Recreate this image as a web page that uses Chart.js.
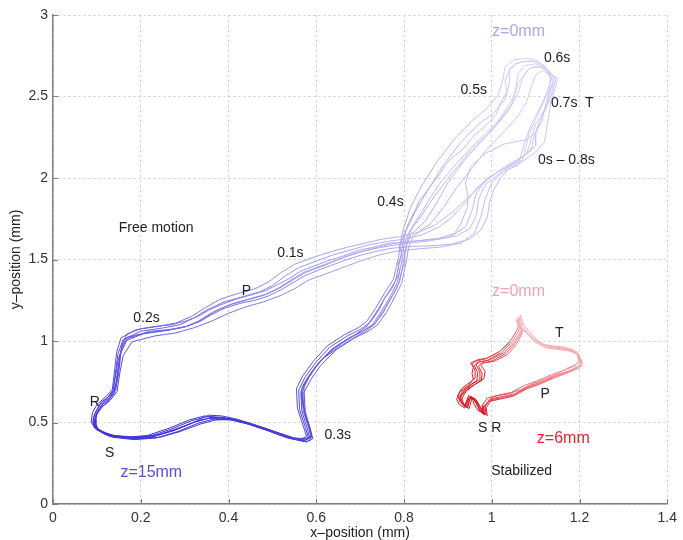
<!DOCTYPE html>
<html>
<head>
<meta charset="utf-8">
<script src="https://cdn.jsdelivr.net/npm/chart.js@4.4.1/dist/chart.umd.min.js"></script>
<style>
  html, body { margin: 0; padding: 0; background: #fff; }
  #wrap { width: 683px; height: 540px; position: relative; }
</style>
</head>
<body>
<div id="wrap"><canvas id="chart"></canvas></div>
<script>
// Axis ticks
const xTickValues = [0, 0.2, 0.4, 0.6, 0.8, 1, 1.2, 1.4];
const yTickValues = [0, 0.5, 1, 1.5, 2, 2.5, 3];

// Free motion trials (x mm, y mm), each loop 0s -> 0.8s
const blueTrial1 = [[1.08,2.15],[1.05,2.09],[1.01,2.03],[0.97,1.95],[0.94,1.85],[0.91,1.76],[0.88,1.70],[0.84,1.65],[0.80,1.625],[0.76,1.61],[0.72,1.59],[0.68,1.56],[0.64,1.53],[0.60,1.49],[0.56,1.45],[0.53,1.40],[0.50,1.34],[0.47,1.30],[0.43,1.27],[0.39,1.24],[0.35,1.19],[0.32,1.14],[0.29,1.10],[0.25,1.08],[0.20,1.06],[0.16,1.01],[0.148,0.92],[0.142,0.80],[0.137,0.69],[0.12,0.64],[0.105,0.60],[0.095,0.55],[0.09,0.50],[0.098,0.46],[0.125,0.42],[0.175,0.405],[0.22,0.415],[0.27,0.46],[0.315,0.51],[0.35,0.535],[0.395,0.525],[0.44,0.495],[0.485,0.455],[0.53,0.41],[0.567,0.39],[0.582,0.41],[0.575,0.47],[0.562,0.58],[0.56,0.70],[0.575,0.78],[0.598,0.865],[0.63,0.96],[0.67,1.03],[0.70,1.07],[0.72,1.11],[0.74,1.19],[0.762,1.29],[0.781,1.37],[0.786,1.44],[0.792,1.50],[0.797,1.60],[0.805,1.68],[0.825,1.79],[0.853,1.92],[0.89,2.08],[0.93,2.22],[0.97,2.33],[1.005,2.40],[1.03,2.48],[1.04,2.58],[1.04,2.67],[1.06,2.71],[1.09,2.72],[1.11,2.70],[1.13,2.65],[1.14,2.60],[1.13,2.52],[1.12,2.42],[1.10,2.33],[1.09,2.24],[1.08,2.15]];
const blueTrial2 = [[1.07,2.11],[1.03,2.06],[0.99,2.00],[0.965,1.91],[0.955,1.80],[0.94,1.70],[0.905,1.64],[0.86,1.615],[0.81,1.60],[0.77,1.585],[0.73,1.565],[0.69,1.54],[0.65,1.50],[0.61,1.46],[0.57,1.42],[0.54,1.37],[0.51,1.32],[0.48,1.28],[0.44,1.25],[0.40,1.22],[0.36,1.17],[0.33,1.12],[0.30,1.085],[0.26,1.065],[0.21,1.05],[0.165,1.00],[0.152,0.91],[0.146,0.79],[0.14,0.68],[0.125,0.63],[0.108,0.59],[0.097,0.545],[0.093,0.495],[0.10,0.455],[0.13,0.415],[0.18,0.40],[0.225,0.41],[0.275,0.45],[0.32,0.50],[0.355,0.525],[0.40,0.52],[0.445,0.49],[0.49,0.45],[0.535,0.405],[0.57,0.385],[0.585,0.405],[0.58,0.46],[0.567,0.57],[0.565,0.69],[0.58,0.77],[0.60,0.85],[0.635,0.95],[0.675,1.02],[0.705,1.06],[0.728,1.10],[0.748,1.18],[0.77,1.28],[0.785,1.36],[0.79,1.43],[0.797,1.51],[0.80,1.59],[0.81,1.66],[0.84,1.77],[0.87,1.89],[0.91,2.03],[0.95,2.16],[0.99,2.27],[1.02,2.36],[1.045,2.45],[1.055,2.55],[1.06,2.64],[1.075,2.69],[1.10,2.70],[1.12,2.68],[1.135,2.62],[1.13,2.54],[1.115,2.45],[1.10,2.36],[1.085,2.27],[1.07,2.11]];
const blueTrial3 = [[1.10,2.20],[1.07,2.13],[1.03,2.07],[0.99,1.99],[0.95,1.89],[0.91,1.79],[0.87,1.71],[0.83,1.665],[0.79,1.64],[0.75,1.625],[0.71,1.60],[0.67,1.575],[0.63,1.545],[0.59,1.51],[0.55,1.47],[0.52,1.42],[0.49,1.36],[0.46,1.32],[0.42,1.29],[0.38,1.255],[0.345,1.20],[0.315,1.15],[0.28,1.11],[0.24,1.09],[0.19,1.07],[0.155,1.02],[0.145,0.93],[0.14,0.81],[0.135,0.70],[0.117,0.65],[0.10,0.61],[0.09,0.56],[0.087,0.505],[0.095,0.465],[0.12,0.425],[0.17,0.41],[0.215,0.42],[0.265,0.465],[0.31,0.515],[0.345,0.54],[0.39,0.53],[0.435,0.50],[0.48,0.46],[0.525,0.415],[0.563,0.395],[0.578,0.415],[0.57,0.48],[0.557,0.59],[0.555,0.71],[0.57,0.79],[0.593,0.875],[0.625,0.97],[0.665,1.04],[0.695,1.08],[0.715,1.12],[0.735,1.20],[0.757,1.30],[0.776,1.38],[0.782,1.45],[0.788,1.52],[0.792,1.61],[0.80,1.70],[0.815,1.82],[0.84,1.95],[0.875,2.10],[0.915,2.24],[0.955,2.35],[0.99,2.43],[1.015,2.51],[1.025,2.60],[1.03,2.68],[1.05,2.725],[1.08,2.735],[1.105,2.72],[1.125,2.67],[1.145,2.61],[1.14,2.53],[1.125,2.44],[1.11,2.35],[1.10,2.27],[1.10,2.20]];
const blueTrial4 = [[1.06,2.08],[1.02,2.03],[0.985,1.96],[0.97,1.87],[0.965,1.77],[0.95,1.69],[0.92,1.645],[0.88,1.625],[0.83,1.615],[0.78,1.60],[0.74,1.575],[0.70,1.545],[0.66,1.51],[0.62,1.465],[0.58,1.425],[0.55,1.38],[0.52,1.33],[0.49,1.29],[0.45,1.26],[0.41,1.23],[0.37,1.185],[0.34,1.13],[0.305,1.09],[0.265,1.07],[0.22,1.06],[0.17,1.015],[0.155,0.93],[0.15,0.81],[0.143,0.70],[0.128,0.645],[0.11,0.605],[0.10,0.555],[0.095,0.50],[0.103,0.46],[0.133,0.42],[0.183,0.405],[0.23,0.415],[0.28,0.455],[0.325,0.505],[0.36,0.53],[0.405,0.525],[0.45,0.495],[0.495,0.455],[0.54,0.41],[0.573,0.39],[0.588,0.41],[0.583,0.465],[0.57,0.575],[0.568,0.695],[0.583,0.775],[0.604,0.86],[0.64,0.955],[0.68,1.025],[0.71,1.065],[0.733,1.105],[0.753,1.185],[0.775,1.285],[0.79,1.365],[0.795,1.435],[0.80,1.505],[0.805,1.58],[0.815,1.65],[0.85,1.74],[0.875,1.85],[0.90,1.97],[0.935,2.10],[0.975,2.22],[1.01,2.32],[1.04,2.42],[1.06,2.52],[1.07,2.61],[1.085,2.67],[1.105,2.685],[1.125,2.66],[1.135,2.60],[1.125,2.52],[1.11,2.43],[1.09,2.33],[1.075,2.22],[1.06,2.08]];
const blueTrial5 = [[1.09,2.17],[1.06,2.11],[1.03,2.05],[1.00,1.97],[0.985,1.87],[0.975,1.76],[0.96,1.66],[0.93,1.60],[0.88,1.575],[0.83,1.565],[0.78,1.55],[0.74,1.525],[0.70,1.49],[0.66,1.45],[0.62,1.41],[0.58,1.37],[0.55,1.32],[0.52,1.28],[0.48,1.24],[0.44,1.21],[0.40,1.17],[0.36,1.12],[0.32,1.08],[0.28,1.05],[0.23,1.03],[0.18,0.995],[0.16,0.91],[0.152,0.80],[0.146,0.69],[0.13,0.635],[0.112,0.595],[0.10,0.55],[0.095,0.49],[0.105,0.45],[0.135,0.41],[0.185,0.395],[0.235,0.405],[0.285,0.445],[0.33,0.495],[0.365,0.52],[0.41,0.515],[0.455,0.485],[0.50,0.445],[0.545,0.40],[0.578,0.38],[0.592,0.40],[0.587,0.455],[0.575,0.565],[0.572,0.685],[0.588,0.765],[0.61,0.85],[0.645,0.945],[0.685,1.015],[0.715,1.055],[0.738,1.095],[0.76,1.175],[0.78,1.275],[0.795,1.355],[0.80,1.425],[0.806,1.495],[0.81,1.57],[0.82,1.64],[0.86,1.72],[0.89,1.82],[0.92,1.94],[0.955,2.06],[0.99,2.18],[1.03,2.29],[1.06,2.38],[1.08,2.47],[1.09,2.56],[1.10,2.63],[1.115,2.66],[1.13,2.64],[1.14,2.58],[1.135,2.50],[1.12,2.41],[1.105,2.32],[1.095,2.24],[1.09,2.17]];
const blueTrial6 = [[1.10,2.28],[1.08,2.235],[1.03,2.21],[0.985,2.15],[0.952,2.07],[0.94,1.97],[0.946,1.88],[0.944,1.82],[0.93,1.72],[0.915,1.66],[0.88,1.63],[0.84,1.618],[0.80,1.605],[0.765,1.60],[0.73,1.575],[0.695,1.555],[0.66,1.52],[0.625,1.49],[0.595,1.46],[0.565,1.43],[0.54,1.385],[0.515,1.35],[0.485,1.31],[0.455,1.285],[0.42,1.26],[0.385,1.225],[0.355,1.19],[0.33,1.15],[0.30,1.12],[0.27,1.10],[0.235,1.09],[0.20,1.075],[0.17,1.045],[0.158,0.99],[0.155,0.94],[0.147,0.87],[0.145,0.82],[0.14,0.75],[0.138,0.70],[0.125,0.655],[0.11,0.625],[0.10,0.58],[0.092,0.53],[0.094,0.48],[0.108,0.445],[0.14,0.42],[0.19,0.41],[0.24,0.425],[0.285,0.465],[0.325,0.505],[0.355,0.545],[0.385,0.54],[0.42,0.52],[0.465,0.48],[0.51,0.44],[0.55,0.405],[0.575,0.40],[0.59,0.42],[0.582,0.49],[0.572,0.58],[0.566,0.66],[0.568,0.72],[0.585,0.795],[0.61,0.88],[0.64,0.95],[0.66,0.99],[0.69,1.04],[0.715,1.09],[0.73,1.14],[0.745,1.20],[0.755,1.26],[0.772,1.32],[0.78,1.37],[0.79,1.42],[0.786,1.47],[0.795,1.53],[0.79,1.58],[0.80,1.65],[0.81,1.72],[0.825,1.80],[0.835,1.86],[0.86,1.95],[0.88,2.02],[0.90,2.10],[0.935,2.18],[0.96,2.26],[0.99,2.33],[1.01,2.39],[1.02,2.46],[1.035,2.53],[1.03,2.60],[1.04,2.66],[1.055,2.70],[1.075,2.715],[1.10,2.715],[1.12,2.69],[1.135,2.64],[1.145,2.60],[1.135,2.55],[1.128,2.48],[1.12,2.42],[1.115,2.35],[1.10,2.28]];
const blueTrial7 = [[1.12,2.22],[1.10,2.16],[1.07,2.10],[1.04,2.06],[1.02,2.00],[1.005,1.93],[0.995,1.85],[0.99,1.76],[0.975,1.68],[0.95,1.625],[0.91,1.595],[0.87,1.585],[0.82,1.58],[0.775,1.57],[0.735,1.55],[0.70,1.525],[0.67,1.50],[0.635,1.465],[0.60,1.43],[0.57,1.395],[0.545,1.355],[0.52,1.315],[0.49,1.275],[0.46,1.25],[0.425,1.23],[0.39,1.20],[0.36,1.16],[0.335,1.12],[0.305,1.09],[0.27,1.07],[0.235,1.055],[0.195,1.04],[0.168,1.02],[0.158,0.975],[0.152,0.90],[0.15,0.84],[0.146,0.77],[0.14,0.70],[0.13,0.66],[0.115,0.62],[0.102,0.57],[0.096,0.52],[0.098,0.47],[0.112,0.44],[0.145,0.415],[0.195,0.40],[0.245,0.41],[0.29,0.445],[0.335,0.49],[0.37,0.515],[0.405,0.52],[0.44,0.50],[0.48,0.465],[0.525,0.425],[0.56,0.395],[0.58,0.385],[0.59,0.41],[0.585,0.47],[0.575,0.55],[0.57,0.64],[0.572,0.73],[0.59,0.81],[0.615,0.89],[0.65,0.96],[0.685,1.02],[0.71,1.055],[0.732,1.10],[0.752,1.17],[0.768,1.25],[0.785,1.33],[0.792,1.40],[0.80,1.47],[0.802,1.54],[0.808,1.62],[0.818,1.70],[0.838,1.78],[0.86,1.88],[0.885,1.98],[0.92,2.09],[0.955,2.19],[0.985,2.27],[1.015,2.35],[1.035,2.43],[1.05,2.50],[1.06,2.58],[1.075,2.64],[1.09,2.68],[1.115,2.68],[1.13,2.65],[1.15,2.61],[1.145,2.55],[1.135,2.47],[1.13,2.38],[1.125,2.30],[1.12,2.22]];

// Stabilized trials
const redTrial1 = [[1.059,1.147],[1.068,1.086],[1.084,1.049],[1.102,0.994],[1.124,0.963],[1.147,0.957],[1.176,0.945],[1.192,0.926],[1.199,0.896],[1.204,0.865],[1.197,0.840],[1.170,0.810],[1.140,0.779],[1.109,0.742],[1.079,0.712],[1.050,0.669],[1.018,0.650],[0.995,0.638],[0.982,0.595],[0.984,0.546],[0.977,0.564],[0.971,0.595],[0.962,0.638],[0.950,0.656],[0.943,0.589],[0.932,0.620],[0.928,0.656],[0.939,0.699],[0.959,0.742],[0.971,0.761],[0.973,0.810],[0.964,0.853],[0.971,0.871],[0.995,0.883],[1.027,0.926],[1.050,0.988],[1.068,1.067],[1.059,1.141]];
const redTrial2 = [[1.055,1.13],[1.066,1.08],[1.082,1.04],[1.10,0.99],[1.122,0.958],[1.148,0.95],[1.178,0.938],[1.194,0.918],[1.201,0.888],[1.202,0.858],[1.193,0.832],[1.166,0.80],[1.136,0.77],[1.105,0.733],[1.075,0.703],[1.046,0.66],[1.015,0.642],[0.992,0.63],[0.98,0.59],[0.982,0.55],[0.975,0.565],[0.968,0.60],[0.96,0.64],[0.948,0.65],[0.94,0.595],[0.93,0.625],[0.93,0.665],[0.945,0.705],[0.968,0.745],[0.982,0.768],[0.985,0.815],[0.975,0.85],[0.982,0.866],[1.005,0.875],[1.035,0.915],[1.055,0.975],[1.07,1.05],[1.055,1.13]];
const redTrial3 = [[1.062,1.15],[1.072,1.09],[1.088,1.052],[1.106,1.00],[1.128,0.97],[1.15,0.962],[1.178,0.952],[1.195,0.932],[1.20,0.90],[1.205,0.872],[1.20,0.846],[1.174,0.816],[1.143,0.786],[1.112,0.75],[1.082,0.72],[1.053,0.677],[1.02,0.657],[0.997,0.645],[0.985,0.60],[0.987,0.55],[0.979,0.57],[0.972,0.60],[0.964,0.642],[0.952,0.66],[0.945,0.592],[0.934,0.617],[0.925,0.652],[0.935,0.695],[0.955,0.738],[0.966,0.758],[0.968,0.805],[0.96,0.848],[0.966,0.868],[0.99,0.882],[1.022,0.928],[1.046,0.992],[1.064,1.075],[1.062,1.15]];
const redTrial4 = [[1.058,1.14],[1.064,1.09],[1.078,1.055],[1.096,1.005],[1.118,0.975],[1.143,0.965],[1.172,0.955],[1.19,0.935],[1.197,0.905],[1.20,0.875],[1.192,0.85],[1.166,0.822],[1.135,0.792],[1.104,0.756],[1.074,0.727],[1.045,0.685],[1.012,0.665],[0.99,0.65],[0.978,0.605],[0.98,0.555],[0.973,0.575],[0.966,0.61],[0.958,0.648],[0.947,0.665],[0.938,0.60],[0.928,0.628],[0.922,0.665],[0.932,0.71],[0.952,0.75],[0.962,0.772],[0.962,0.818],[0.955,0.858],[0.962,0.876],[0.985,0.89],[1.018,0.935],[1.042,1.00],[1.06,1.08],[1.058,1.14]];
const redTrial5 = [[1.065,1.16],[1.074,1.095],[1.09,1.046],[1.108,0.99],[1.13,0.958],[1.152,0.952],[1.18,0.94],[1.196,0.92],[1.203,0.89],[1.207,0.86],[1.20,0.834],[1.173,0.804],[1.142,0.773],[1.11,0.736],[1.08,0.706],[1.05,0.663],[1.02,0.644],[0.998,0.632],[0.987,0.59],[0.99,0.542],[0.982,0.56],[0.975,0.59],[0.966,0.632],[0.955,0.65],[0.948,0.584],[0.936,0.612],[0.932,0.65],[0.942,0.692],[0.962,0.735],[0.976,0.755],[0.978,0.802],[0.97,0.845],[0.976,0.864],[1.00,0.877],[1.03,0.92],[1.052,0.982],[1.07,1.06],[1.065,1.16]];
const redTrial6 = [[1.06,1.12],[1.07,1.075],[1.085,1.035],[1.098,1.01],[1.115,0.98],[1.14,0.97],[1.165,0.962],[1.185,0.945],[1.195,0.915],[1.198,0.88],[1.19,0.855],[1.17,0.83],[1.15,0.80],[1.12,0.765],[1.095,0.74],[1.065,0.70],[1.035,0.675],[1.005,0.66],[0.99,0.62],[0.976,0.58],[0.985,0.56],[0.97,0.57],[0.96,0.61],[0.955,0.655],[0.944,0.64],[0.938,0.59],[0.926,0.61],[0.92,0.645],[0.928,0.69],[0.948,0.73],[0.958,0.765],[0.955,0.80],[0.958,0.84],[0.952,0.865],[0.968,0.885],[0.99,0.895],[1.012,0.925],[1.035,0.975],[1.05,1.03],[1.062,1.09],[1.06,1.12]];

// Text annotations (data coordinates)
const noteText = ['Free motion', '0.1s', 'P', '0.2s', 'R', 'S', '0.3s', '0.4s', '0.5s', '0.6s', '0.7s', 'T', '0s \u2013 0.8s', 'T', 'P', 'S R', 'Stabilized'];
const noteX    = [0.235, 0.541, 0.441, 0.213, 0.095, 0.129, 0.649, 0.769, 0.959, 1.149, 1.165, 1.222, 1.170, 1.154, 1.122, 0.995, 1.068];
const noteY    = [1.693, 1.540, 1.307, 1.141, 0.626, 0.313, 0.423, 1.853, 2.540, 2.736, 2.460, 2.460, 2.110, 1.049, 0.675, 0.466, 0.202];
const depthText = ['z=0mm', 'z=15mm', 'z=0mm', 'z=6mm'];
const depthX    = [1.061, 0.224, 1.061, 1.163];
const depthY    = [2.896, 0.190, 1.301, 0.399];

// colours along the loop (fraction of time -> rgb), encodes depth z
const blueStops = [[0,200,196,245],[0.1,184,179,242],[0.175,160,154,238],[0.225,136,128,234],[0.3,106,95,228],[0.36,74,62,221],[0.41,61,48,218],[0.5,64,52,218],[0.55,74,62,220],[0.65,106,96,227],[0.75,163,157,239],[0.825,195,191,244],[0.9,212,209,247],[1,200,196,245]];
const redStops = [[0,247,194,201],[0.24,244,160,170],[0.35,239,116,128],[0.46,230,58,70],[0.51,224,24,34],[0.65,223,20,30],[0.81,226,32,42],[0.92,234,78,90],[1,247,194,201]];
const depthColors = ['#aaa5f0', '#5a4ee0', '#f4a3ad', '#e8222b'];

const FONT = "'Liberation Sans', Arial, Helvetica, sans-serif";
const AXIS = '#808080';

function colorAt(stops, f) {
    for (let i = 1; i < stops.length; i++) {
        if (f <= stops[i][0]) {
            const a = stops[i - 1], b = stops[i];
            const t = (f - a[0]) / (b[0] - a[0] || 1);
            const c = [1, 2, 3].map(k => Math.round(a[k] + (b[k] - a[k]) * t));
            return `rgb(${c[0]},${c[1]},${c[2]})`;
        }
    }
    const l = stops[stops.length - 1];
    return `rgb(${l[1]},${l[2]},${l[3]})`;
}

function trialDataset(loop, stops) {
    const n = loop.length - 1;
    return {
        data: loop.map(([x, y]) => ({ x, y })),
        showLine: true,
        pointRadius: 0,
        borderWidth: 1,
        tension: 0,
        borderColor: colorAt(stops, 0),
        segment: {
            borderColor: ctx => colorAt(stops, (ctx.p0DataIndex + 0.5) / n)
        }
    };
}

const datasets = [
    ...[blueTrial1, blueTrial2, blueTrial3, blueTrial4, blueTrial5, blueTrial6, blueTrial7].map(l => trialDataset(l, blueStops)),
    ...[redTrial1, redTrial2, redTrial3, redTrial4, redTrial5, redTrial6].map(l => trialDataset(l, redStops))
];

// inward tick marks + text labels
const extras = {
    id: 'extras',
    afterDraw(chart) {
        const { ctx, chartArea: a, scales: { x, y } } = chart;
        ctx.save();
        ctx.strokeStyle = AXIS;
        ctx.lineWidth = 1;
        ctx.beginPath();
        xTickValues.forEach(v => {
            const px = Math.round(x.getPixelForValue(v)) + 0.5;
            ctx.moveTo(px, a.bottom);
            ctx.lineTo(px, a.bottom - 5);
        });
        yTickValues.forEach(v => {
            const py = Math.round(y.getPixelForValue(v)) + 0.5;
            ctx.moveTo(a.left, py);
            ctx.lineTo(a.left + 5, py);
        });
        ctx.stroke();

        ctx.textAlign = 'center';
        ctx.textBaseline = 'middle';
        ctx.fillStyle = '#222';
        ctx.font = `14px ${FONT}`;
        noteText.forEach((t, i) => {
            ctx.fillText(t, x.getPixelForValue(noteX[i]), y.getPixelForValue(noteY[i]));
        });
        ctx.font = `16px ${FONT}`;
        depthText.forEach((t, i) => {
            ctx.fillStyle = depthColors[i];
            ctx.fillText(t, x.getPixelForValue(depthX[i]), y.getPixelForValue(depthY[i]));
        });
        ctx.restore();
    }
};

new Chart(document.getElementById('chart'), {
    type: 'scatter',
    data: { datasets },
    options: {
        responsive: true,
        maintainAspectRatio: false,
        animation: false,
        devicePixelRatio: 1,
        layout: { padding: { top: 15, right: 11, left: 0, bottom: 0 } },
        plugins: { legend: { display: false }, tooltip: { enabled: false } },
        scales: {
            x: {
                type: 'linear',
                min: 0, max: 1.4,
                afterFit: s => { s.height = 36; },
                afterBuildTicks: s => { s.ticks = xTickValues.map(v => ({ value: v })); },
                ticks: {
                    padding: 6,
                    color: '#333',
                    font: { family: FONT, size: 14 },
                    maxRotation: 0,
                    callback: v => String(Number(v.toFixed(1)))
                },
                grid: { color: '#cccccc', lineWidth: 1, drawTicks: false },
                border: { display: true, color: AXIS, width: 1.5, dash: [2, 3] },
                title: {
                    display: true, text: 'x\u2013position (mm)', color: '#222',
                    font: { family: FONT, size: 14 }, padding: { top: 0, bottom: -2 }
                }
            },
            y: {
                type: 'linear',
                min: 0, max: 3,
                afterFit: s => { s.width = 53; },
                afterBuildTicks: s => { s.ticks = yTickValues.map(v => ({ value: v })); },
                ticks: {
                    padding: 5,
                    color: '#333',
                    font: { family: FONT, size: 14 },
                    callback: v => String(Number(v.toFixed(1)))
                },
                grid: { color: '#cccccc', lineWidth: 1, drawTicks: false },
                border: { display: true, color: AXIS, width: 1.5, dash: [2, 3] },
                title: {
                    display: true, text: 'y\u2013position (mm)', color: '#222',
                    font: { family: FONT, size: 14 }, padding: { top: 8, bottom: 0 }
                }
            }
        }
    },
    plugins: [extras]
});
</script>
</body>
</html>
